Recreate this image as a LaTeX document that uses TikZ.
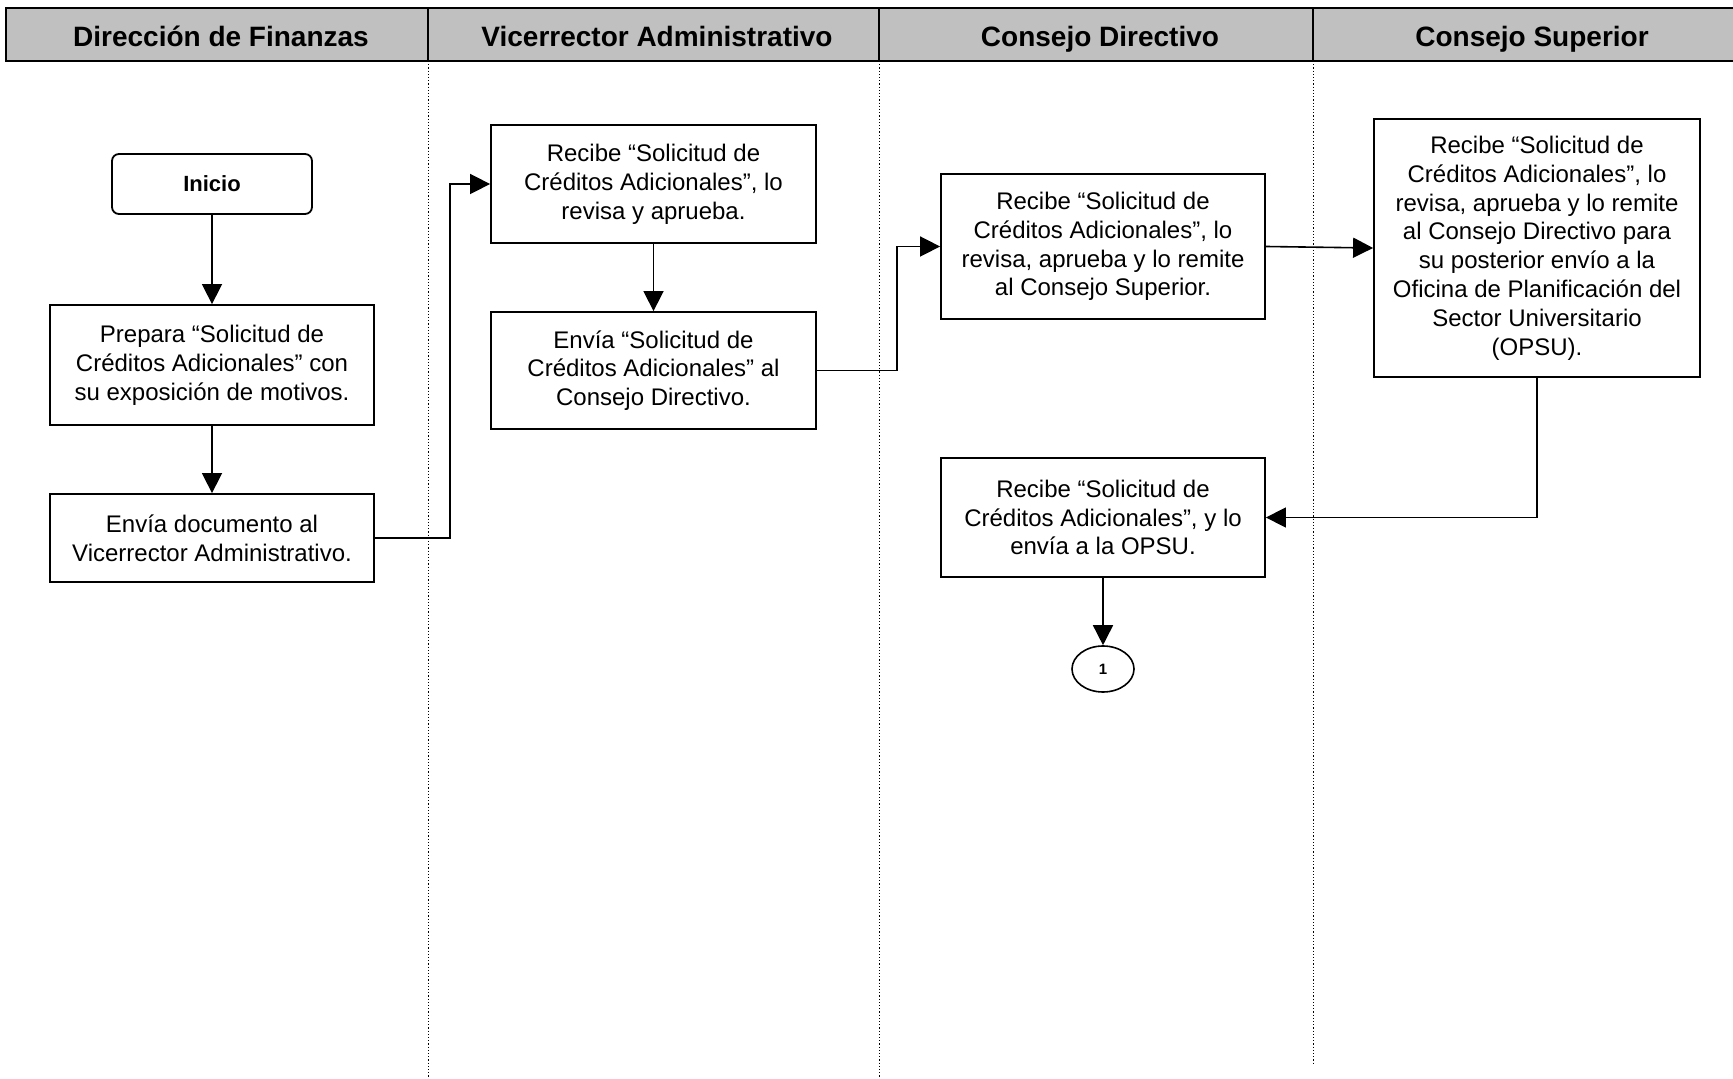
\documentclass[tikz,border=0pt]{standalone}
\usepackage{fontspec}
\setmainfont{Liberation Sans}
\usetikzlibrary{arrows.meta,shapes.geometric}
\definecolor{headgray}{RGB}{192,192,192}
\begin{document}
\begin{tikzpicture}[x=0.5pt,y=-0.5pt,
  box/.style={draw, line width=0.9pt, align=center, inner sep=2pt,
    font=\fontsize{12}{14.4}\selectfont},
  startbox/.style={draw, line width=0.9pt, rounded corners=3.5pt, align=center,
    minimum width=100pt, minimum height=30pt, font=\fontsize{11}{13}\selectfont\bfseries},
  headtext/.style={anchor=base, font=\fontsize{14}{16}\selectfont\bfseries},
  conn/.style={line width=0.8pt, -{Triangle[length=10pt,width=10pt]}},
  lane/.style={line width=0.5pt, dash pattern=on 0.6pt off 1pt},
  ref/.style={draw, ellipse, line width=0.8pt, minimum width=31pt, minimum height=23pt,
    inner sep=0pt, font=\fontsize{7.5}{8}\selectfont\bfseries}
]
\useasboundingbox (0,0) rectangle (1733,1079);
\fill[white] (0,0) rectangle (1733,1079);

% header band with lane titles
\draw[fill=headgray, line width=1pt] (6,8) rectangle (1745,61);
\foreach \x in {428,879,1313} \draw[line width=1pt] (\x,8) -- (\x,61);
\node[headtext] (h1) at (221,47) {Dirección de Finanzas};
\node[headtext] (h2) at (657,47) {Vicerrector Administrativo};
\node[headtext] (h3) at (1100,47) {Consejo Directivo};
\node[headtext] (h4) at (1532,47) {Consejo Superior};

% lane separators
\draw[lane] (428,61) -- (428,1079);
\draw[lane] (879,61) -- (879,1079);
\draw[lane] (1313,61) -- (1313,1063);

% Dirección de Finanzas
\node[startbox] (inicio) at (212,184) {Inicio};
\node[box, minimum width=162pt, minimum height=60pt] (prep) at (212,365)
  {Prepara “Solicitud de\\Créditos Adicionales” con\\su exposición de motivos.};
\node[box, minimum width=162pt, minimum height=44pt] (envdoc) at (212,538)
  {Envía documento al\\Vicerrector Administrativo.};

% Vicerrector Administrativo
\node[box, minimum width=162.5pt, minimum height=59pt] (recva) at (653.5,184)
  {Recibe “Solicitud de\\Créditos Adicionales”, lo\\revisa y aprueba.};
\node[box, minimum width=162.5pt, minimum height=58.5pt] (envva) at (653.5,370.5)
  {Envía “Solicitud de\\Créditos Adicionales” al\\Consejo Directivo.};

% Consejo Directivo
\node[box, minimum width=162pt, minimum height=72.5pt] (reccd) at (1103,246.5)
  {Recibe “Solicitud de\\Créditos Adicionales”, lo\\revisa, aprueba y lo remite\\al Consejo Superior.};
\node[box, minimum width=162pt, minimum height=59.5pt] (reccdb) at (1103,517.5)
  {Recibe “Solicitud de\\Créditos Adicionales”, y lo\\envía a la OPSU.};
\node[ref] (one) at (1103,669) {1};

% Consejo Superior
\node[box, minimum width=163pt, minimum height=129pt] (reccs) at (1537,248)
  {Recibe “Solicitud de\\Créditos Adicionales”, lo\\revisa, aprueba y lo remite\\al Consejo Directivo para\\su posterior envío a la\\Oficina de Planificación del\\Sector Universitario\\(OPSU).};

% elbow columns
\coordinate (ja) at (450,0);
\coordinate (jb) at (897,0);

% connectors
\draw[conn] (inicio) -- (prep);
\draw[conn] (prep) -- (envdoc);
\draw[conn] (envdoc.east) -- (envdoc.east -| ja) -- (ja |- recva.west) -- (recva.west);
\draw[conn] (recva) -- (envva);
\draw[conn] (envva.east) -- (envva.east -| jb) -- (jb |- reccd.west) -- (reccd.west);
\draw[conn] (reccd.east) -- (reccs.west);
\draw[conn] (reccs.south) |- (reccdb.east);
\draw[conn] (reccdb) -- (one);
\end{tikzpicture}
\end{document}
